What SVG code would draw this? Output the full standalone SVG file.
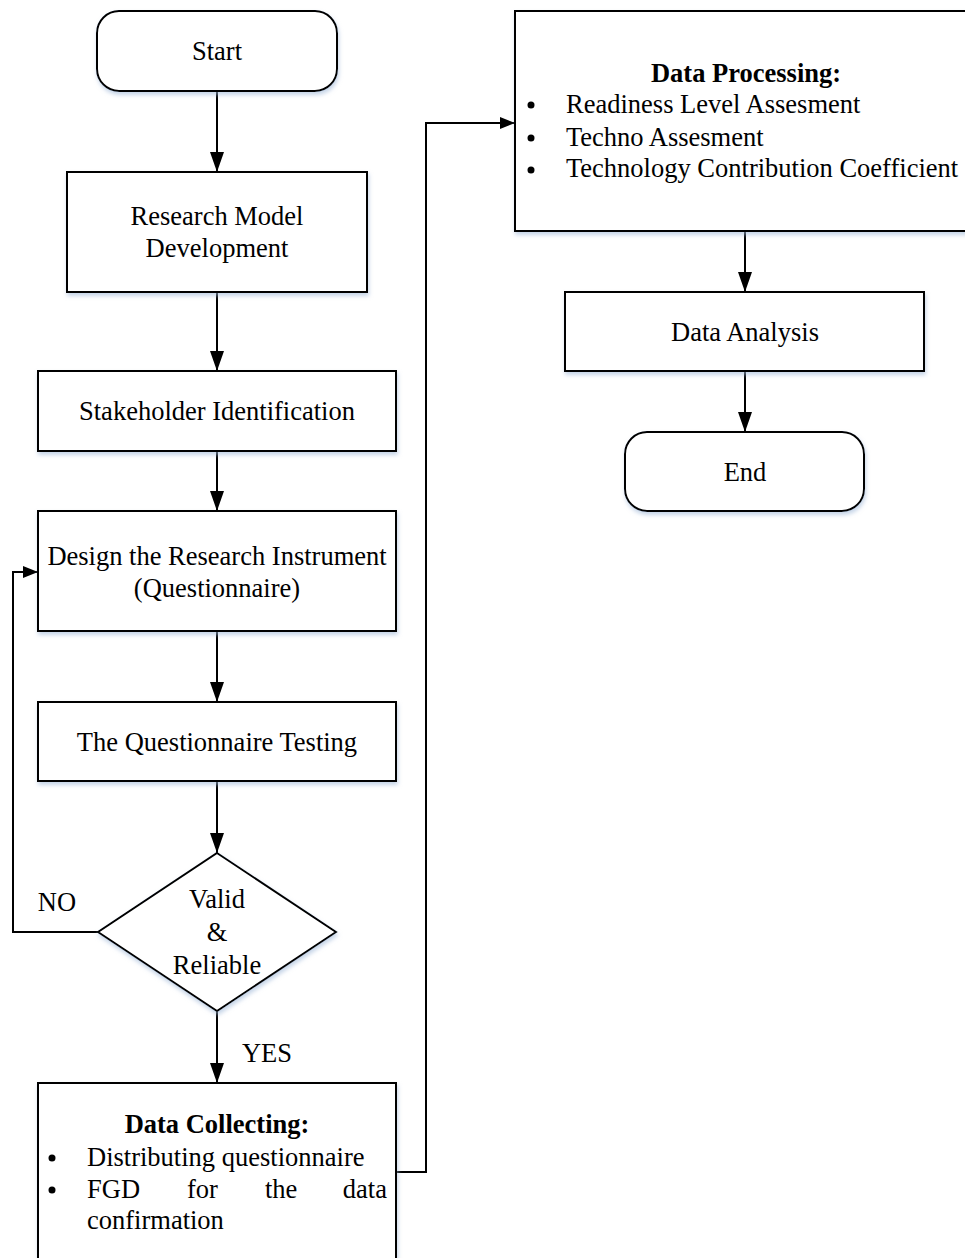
<svg xmlns="http://www.w3.org/2000/svg" width="965" height="1258" viewBox="0 0 965 1258">
  <defs>
    <!-- vertical flow arrowhead -->
    <marker id="arrowV" viewBox="0 0 20 14" refX="20" refY="7" markerWidth="20" markerHeight="14" markerUnits="userSpaceOnUse" orient="auto">
      <path d="M0,0 L20,7 L0,14 z" fill="#000"/>
    </marker>
    <!-- smaller arrowhead for the side routes -->
    <marker id="arrowH" viewBox="0 0 15 12" refX="15" refY="6" markerWidth="15" markerHeight="12" markerUnits="userSpaceOnUse" orient="auto">
      <path d="M0,0 L15,6 L0,12 z" fill="#000"/>
    </marker>
    <filter id="shadow" x="-10%" y="-10%" width="120%" height="130%">
      <feDropShadow dx="1" dy="3" stdDeviation="2" flood-color="#9fb8d8" flood-opacity="0.6"/>
    </filter>
  </defs>
  <style>
    .box { fill: #fff; stroke: #000; stroke-width: 2; filter: url(#shadow); }
    .t { font-family: "Liberation Serif", "Times New Roman", serif; font-size: 26.5px; fill: #000; }
    .c { text-anchor: middle; }
    .b { font-weight: bold; }
    .edge { fill: none; stroke: #000; stroke-width: 2; }
  </style>
  <rect width="965" height="1258" fill="#fff"/>

  <g id="connectors">
    <path class="edge" d="M217,91 V172" marker-end="url(#arrowV)"/>
    <path class="edge" d="M217,292 V371" marker-end="url(#arrowV)"/>
    <path class="edge" d="M217,451 V511" marker-end="url(#arrowV)"/>
    <path class="edge" d="M217,631 V702" marker-end="url(#arrowV)"/>
    <path class="edge" d="M217,781 V853" marker-end="url(#arrowV)"/>
    <path class="edge" d="M217,1011 V1083" marker-end="url(#arrowV)"/>
    <path class="edge" d="M98,932 H13 V572 H38" marker-end="url(#arrowH)"/>
    <path class="edge" d="M396,1172 H426 V123 H515" marker-end="url(#arrowH)"/>
    <path class="edge" d="M745,231 V292" marker-end="url(#arrowV)"/>
    <path class="edge" d="M745,371 V432" marker-end="url(#arrowV)"/>
    <text class="t c" x="57" y="911">NO</text>
    <text class="t c" x="267" y="1062">YES</text>
  </g>

  <g id="start">
    <rect class="box" x="97" y="11" width="240" height="80" rx="22"/>
    <text class="t c" x="217" y="60">Start</text>
  </g>

  <g id="research-model">
    <rect class="box" x="67" y="172" width="300" height="120"/>
    <text class="t c" x="217" y="225">Research Model</text>
    <text class="t c" x="217" y="257">Development</text>
  </g>

  <g id="stakeholder">
    <rect class="box" x="38" y="371" width="358" height="80"/>
    <text class="t c" x="217" y="420">Stakeholder Identification</text>
  </g>

  <g id="design">
    <rect class="box" x="38" y="511" width="358" height="120"/>
    <text class="t c" x="217" y="565">Design the Research Instrument</text>
    <text class="t c" x="217" y="597">(Questionnaire)</text>
  </g>

  <g id="testing">
    <rect class="box" x="38" y="702" width="358" height="79"/>
    <text class="t c" x="217" y="751">The Questionnaire Testing</text>
  </g>

  <g id="decision">
    <path class="box" d="M217,853 L336,932 L217,1011 L98,932 Z"/>
    <text class="t c" x="217" y="908">Valid</text>
    <text class="t c" x="217" y="941">&amp;</text>
    <text class="t c" x="217" y="974">Reliable</text>
  </g>

  <g id="data-collecting">
    <rect class="box" x="38" y="1083" width="358" height="190"/>
    <text class="t c b" x="217" y="1133">Data Collecting:</text>
    <circle cx="52" cy="1158" r="3.5"/>
    <text class="t" x="87" y="1166">Distributing questionnaire</text>
    <circle cx="52" cy="1190" r="3.5"/>
    <text class="t" x="87" y="1198">FGD</text>
    <text class="t" x="187" y="1198">for</text>
    <text class="t" x="265" y="1198">the</text>
    <text class="t" x="387" y="1198" text-anchor="end">data</text>
    <text class="t" x="87" y="1229">confirmation</text>
  </g>

  <g id="data-processing">
    <rect class="box" x="515" y="11" width="460" height="220"/>
    <text class="t c b" x="746" y="82">Data Processing:</text>
    <circle cx="531" cy="105" r="3.5"/>
    <text class="t" x="566" y="113">Readiness Level Assesment</text>
    <circle cx="531" cy="138" r="3.5"/>
    <text class="t" x="566" y="146">Techno Assesment</text>
    <circle cx="531" cy="170" r="3.5"/>
    <text class="t" x="566" y="177">Technology Contribution Coefficient</text>
  </g>

  <g id="data-analysis">
    <rect class="box" x="565" y="292" width="359" height="79"/>
    <text class="t c" x="745" y="341">Data Analysis</text>
  </g>

  <g id="end">
    <rect class="box" x="625" y="432" width="239" height="79" rx="22"/>
    <text class="t c" x="745" y="481">End</text>
  </g>
</svg>
